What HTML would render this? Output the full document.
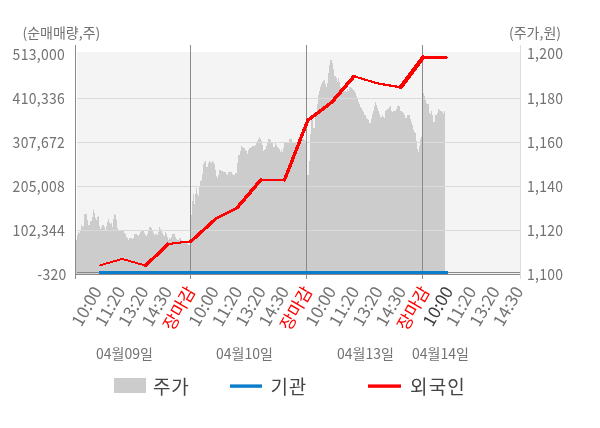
<!DOCTYPE html>
<html><head><meta charset="utf-8"><style>
html,body{margin:0;padding:0;background:#fff;}
svg{display:block;will-change:transform;font-family:'Noto Sans CJK KR','Liberation Sans',sans-serif;}
</style></head><body>
<svg width="600" height="428" viewBox="0 0 600 428">
<rect x="0" y="0" width="600" height="428" fill="#fff"/>
<rect x="77" y="52" width="443" height="222" fill="#f4f4f4"/>
<polygon points="76,274 76,240 77,240 77,235 78,235 78,232 79,232 79,233 80,233 80,231 81,231 81,225 82,225 82,227 83,227 83,226 84,226 84,214 85,214 85,214 86,214 86,214 87,214 87,220 88,220 88,225 89,225 89,225 90,225 90,221 91,221 91,221 92,221 92,217 93,217 93,210 94,210 94,213 95,213 95,218 96,218 96,220 97,220 97,217 98,217 98,216 99,216 99,226 100,226 100,229 101,229 101,227 102,227 102,225 103,225 103,225 104,225 104,227 105,227 105,230 106,230 106,226 107,226 107,222 108,222 108,219 109,219 109,222 110,222 110,224 111,224 111,223 112,223 112,227 113,227 113,219 114,219 114,214 115,214 115,215 116,215 116,220 117,220 117,228 118,228 118,231 119,231 119,231 120,231 120,231 121,231 121,231 122,231 122,231 123,231 123,231 124,231 124,233 125,233 125,234 126,234 126,237 127,237 127,238 128,238 128,240 129,240 129,238 130,238 130,238 131,238 131,238 132,238 132,239 133,239 133,238 134,238 134,234 135,234 135,234 136,234 136,234 137,234 137,235 138,235 138,236 139,236 139,234 140,234 140,232 141,232 141,231 142,231 142,231 143,231 143,231 144,231 144,233 145,233 145,235 146,235 146,236 147,236 147,234 148,234 148,231 149,231 149,227 150,227 150,227 151,227 151,228 152,228 152,231 153,231 153,233 154,233 154,235 155,235 155,234 156,234 156,234 157,234 157,235 158,235 158,232 159,232 159,227 160,227 160,229 161,229 161,231 162,231 162,233 163,233 163,235 164,235 164,236 165,236 165,232 166,232 166,234 167,234 167,237 168,237 168,240 169,240 169,238 170,238 170,239 171,239 171,237 172,237 172,234 173,234 173,234 174,234 174,234 175,234 175,237 176,237 176,239 177,239 177,240 178,240 178,240 179,240 179,238 180,238 180,238 181,238 181,240 182,240 182,241 183,241 183,242 184,242 184,242 185,242 185,243 186,243 186,243 187,243 187,244 188,244 188,245 189,245 189,245 190,245 190,246 191,246 191,215 192,215 192,201 193,201 193,194 194,194 194,204 195,204 195,194 196,194 196,188 197,188 197,194 198,194 198,196 199,196 199,187 200,187 200,181 201,181 201,180 202,180 202,174 203,174 203,164 204,164 204,162 205,162 205,161 206,161 206,167 207,167 207,167 208,167 208,163 209,163 209,161 210,161 210,162 211,162 211,163 212,163 212,161 213,161 213,162 214,162 214,164 215,164 215,170 216,170 216,176 217,176 217,178 218,178 218,175 219,175 219,170 220,170 220,170 221,170 221,171 222,171 222,171 223,171 223,172 224,172 224,172 225,172 225,172 226,172 226,174 227,174 227,175 228,175 228,172 229,172 229,172 230,172 230,172 231,172 231,172 232,172 232,174 233,174 233,175 234,175 234,175 235,175 235,173 236,173 236,173 237,173 237,163 238,163 238,155 239,155 239,155 240,155 240,151 241,151 241,146 242,146 242,147 243,147 243,148 244,148 244,148 245,148 245,150 246,150 246,151 247,151 247,154 248,154 248,150 249,150 249,148 250,148 250,148 251,148 251,147 252,147 252,146 253,146 253,146 254,146 254,146 255,146 255,145 256,145 256,143 257,143 257,141 258,141 258,139 259,139 259,137 260,137 260,139 261,139 261,141 262,141 262,145 263,145 263,151 264,151 264,150 265,150 265,149 266,149 266,146 267,146 267,143 268,143 268,139 269,139 269,139 270,139 270,140 271,140 271,142 272,142 272,143 273,143 273,147 274,147 274,147 275,147 275,143 276,143 276,145 277,145 277,147 278,147 278,148 279,148 279,149 280,149 280,152 281,152 281,150 282,150 282,152 283,152 283,148 284,148 284,143 285,143 285,143 286,143 286,143 287,143 287,143 288,143 288,143 289,143 289,139 290,139 290,139 291,139 291,139 292,139 292,142 293,142 293,143 294,143 294,143 295,143 295,143 296,143 296,144 297,144 297,144 298,144 298,143 299,143 299,142 300,142 300,142 301,142 301,141 302,141 302,139 303,139 303,139 304,139 304,140 305,140 305,141 306,141 306,142 307,142 307,175 308,175 308,175 309,175 309,161 310,161 310,134 311,134 311,120 312,120 312,120 313,120 313,128 314,128 314,128 315,128 315,114 316,114 316,114 317,114 317,104 318,104 318,95 319,95 319,91 320,91 320,87 321,87 321,84 322,84 322,82 323,82 323,81 324,81 324,80 325,80 325,84 326,84 326,87 327,87 327,83 328,83 328,73 329,73 329,65 330,65 330,60 331,60 331,60 332,60 332,63 333,63 333,69 334,69 334,76 335,76 335,76 336,76 336,78 337,78 337,82 338,82 338,78 339,78 339,82 340,82 340,87 341,87 341,88 342,88 342,89 343,89 343,90 344,90 344,91 345,91 345,91 346,91 346,92 347,92 347,89 348,89 348,91 349,91 349,87 350,87 350,87 351,87 351,88 352,88 352,89 353,89 353,90 354,90 354,91 355,91 355,93 356,93 356,96 357,96 357,99 358,99 358,102 359,102 359,104 360,104 360,107 361,107 361,108 362,108 362,110 363,110 363,112 364,112 364,115 365,115 365,115 366,115 366,118 367,118 367,119 368,119 368,120 369,120 369,123 370,123 370,123 371,123 371,119 372,119 372,114 373,114 373,111 374,111 374,106 375,106 375,102 376,102 376,105 377,105 377,108 378,108 378,111 379,111 379,114 380,114 380,117 381,117 381,117 382,117 382,115 383,115 383,117 384,117 384,118 385,118 385,111 386,111 386,110 387,110 387,109 388,109 388,109 389,109 389,107 390,107 390,106 391,106 391,111 392,111 392,112 393,112 393,111 394,111 394,111 395,111 395,111 396,111 396,109 397,109 397,106 398,106 398,106 399,106 399,106 400,106 400,111 401,111 401,111 402,111 402,112 403,112 403,113 404,113 404,115 405,115 405,118 406,118 406,118 407,118 407,115 408,115 408,115 409,115 409,115 410,115 410,119 411,119 411,122 412,122 412,125 413,125 413,130 414,130 414,132 415,132 415,133 416,133 416,141 417,141 417,149 418,149 418,152 419,152 419,146 420,146 420,139 421,139 421,137 422,137 422,137 423,137 423,93 424,93 424,96 425,96 425,100 426,100 426,103 427,103 427,104 428,104 428,104 429,104 429,113 430,113 430,114 431,114 431,111 432,111 432,115 433,115 433,122 434,122 434,122 435,122 435,115 436,115 436,115 437,115 437,113 438,113 438,109 439,109 439,110 440,110 440,111 441,111 441,111 442,111 442,112 443,112 443,114 444,114 444,111 445,111 445,274" fill="#cccccc" shape-rendering="crispEdges"/>
<rect x="77" y="98" width="443" height="1" fill="#dadada"/>
<rect x="77" y="142" width="443" height="1" fill="#dadada"/>
<rect x="77" y="186" width="443" height="1" fill="#dadada"/>
<rect x="77" y="230" width="443" height="1" fill="#dadada"/>
<rect x="77" y="272" width="443" height="1" fill="#888"/>
<rect x="75" y="274" width="445" height="1" fill="#8a8a8a"/>
<rect x="75" y="45" width="1" height="234" fill="#8a8a8a"/>
<rect x="190" y="45" width="1" height="234" fill="#8a8a8a"/>
<rect x="306" y="45" width="1" height="234" fill="#8a8a8a"/>
<rect x="422" y="45" width="1" height="234" fill="#8a8a8a"/>
<rect x="520" y="45" width="1" height="234" fill="#dcdcdc"/>
<rect x="99" y="271" width="349" height="3" fill="#0a7dcc"/>
<g stroke="#ff0000" stroke-linecap="round" shape-rendering="crispEdges"><line x1="100" y1="265.3" x2="122.3" y2="258.9" stroke-width="1.93"/><line x1="122.3" y1="258.9" x2="145.8" y2="265.6" stroke-width="1.93"/><line x1="145.8" y1="265.6" x2="167.6" y2="244.1" stroke-width="3.5"/><line x1="167.6" y1="244.1" x2="191" y2="241.3" stroke-width="2.1"/><line x1="191" y1="241.3" x2="215.8" y2="218.8" stroke-width="3.3"/><line x1="215.8" y1="218.8" x2="237.2" y2="207.7" stroke-width="2.7"/><line x1="237.2" y1="207.7" x2="260.7" y2="180" stroke-width="3.5"/><line x1="260.7" y1="180" x2="284.5" y2="180" stroke-width="2"/><line x1="284.5" y1="180" x2="307.8" y2="120.3" stroke-width="3.35"/><line x1="307.8" y1="120.3" x2="332" y2="102" stroke-width="3.4"/><line x1="332" y1="102" x2="354" y2="76.3" stroke-width="3.6"/><line x1="354" y1="76.3" x2="377.3" y2="83.3" stroke-width="2.1"/><line x1="377.3" y1="83.3" x2="400.6" y2="87.3" stroke-width="2.3"/><line x1="400.6" y1="87.3" x2="423" y2="57.6" stroke-width="4.2"/><line x1="423" y1="57.6" x2="446.4" y2="57.6" stroke-width="2.8"/></g>
<g font-size="14" fill="#727272">
<text x="22.5" y="38.3">(순매매량,주)</text>
<text x="509" y="38.3">(주가,원)</text>
<text x="65.2" y="59.7" text-anchor="end" letter-spacing="0.3" transform="translate(0,59.7) scale(1,1.1) translate(0,-59.7)">513,000</text>
<text x="65.2" y="103.7" text-anchor="end" letter-spacing="0.3" transform="translate(0,103.7) scale(1,1.1) translate(0,-103.7)">410,336</text>
<text x="65.2" y="147.7" text-anchor="end" letter-spacing="0.3" transform="translate(0,147.7) scale(1,1.1) translate(0,-147.7)">307,672</text>
<text x="65.2" y="191.7" text-anchor="end" letter-spacing="0.3" transform="translate(0,191.7) scale(1,1.1) translate(0,-191.7)">205,008</text>
<text x="65.2" y="235.7" text-anchor="end" letter-spacing="0.3" transform="translate(0,235.7) scale(1,1.1) translate(0,-235.7)">102,344</text>
<text x="66.6" y="279.7" text-anchor="end" letter-spacing="0.3" transform="translate(0,279.7) scale(1,1.1) translate(0,-279.7)">-320</text>
<text x="527" y="58.7" letter-spacing="0.3" transform="translate(0,58.7) scale(1,1.1) translate(0,-58.7)">1,200</text>
<text x="527" y="103.7" letter-spacing="0.3" transform="translate(0,103.7) scale(1,1.1) translate(0,-103.7)">1,180</text>
<text x="527" y="147.7" letter-spacing="0.3" transform="translate(0,147.7) scale(1,1.1) translate(0,-147.7)">1,160</text>
<text x="527" y="191.7" letter-spacing="0.3" transform="translate(0,191.7) scale(1,1.1) translate(0,-191.7)">1,140</text>
<text x="527" y="235.7" letter-spacing="0.3" transform="translate(0,235.7) scale(1,1.1) translate(0,-235.7)">1,120</text>
<text x="527" y="279.7" letter-spacing="0.3" transform="translate(0,279.7) scale(1,1.1) translate(0,-279.7)">1,100</text>
<text transform="translate(102.50,291.0) rotate(-60)" text-anchor="end" font-size="17" fill="#727272">10:00</text>
<text transform="translate(125.91,291.0) rotate(-60)" text-anchor="end" font-size="17" fill="#727272">11:20</text>
<text transform="translate(149.32,291.0) rotate(-60)" text-anchor="end" font-size="17" fill="#727272">13:20</text>
<text transform="translate(172.73,291.0) rotate(-60)" text-anchor="end" font-size="17" fill="#727272">14:30</text>
<text transform="translate(196.14,291.0) rotate(-60)" text-anchor="end" font-size="17" fill="#ff0000">장마감</text>
<text transform="translate(219.55,291.0) rotate(-60)" text-anchor="end" font-size="17" fill="#727272">10:00</text>
<text transform="translate(242.96,291.0) rotate(-60)" text-anchor="end" font-size="17" fill="#727272">11:20</text>
<text transform="translate(266.37,291.0) rotate(-60)" text-anchor="end" font-size="17" fill="#727272">13:20</text>
<text transform="translate(289.78,291.0) rotate(-60)" text-anchor="end" font-size="17" fill="#727272">14:30</text>
<text transform="translate(313.19,291.0) rotate(-60)" text-anchor="end" font-size="17" fill="#ff0000">장마감</text>
<text transform="translate(336.60,291.0) rotate(-60)" text-anchor="end" font-size="17" fill="#727272">10:00</text>
<text transform="translate(360.01,291.0) rotate(-60)" text-anchor="end" font-size="17" fill="#727272">11:20</text>
<text transform="translate(383.42,291.0) rotate(-60)" text-anchor="end" font-size="17" fill="#727272">13:20</text>
<text transform="translate(406.83,291.0) rotate(-60)" text-anchor="end" font-size="17" fill="#727272">14:30</text>
<text transform="translate(430.24,291.0) rotate(-60)" text-anchor="end" font-size="17" fill="#ff0000">장마감</text>
<text transform="translate(453.65,291.0) rotate(-60)" text-anchor="end" font-size="17" fill="#3c3c3c">10:00</text>
<text transform="translate(477.06,291.0) rotate(-60)" text-anchor="end" font-size="17" fill="#727272">11:20</text>
<text transform="translate(500.47,291.0) rotate(-60)" text-anchor="end" font-size="17" fill="#727272">13:20</text>
<text transform="translate(523.88,291.0) rotate(-60)" text-anchor="end" font-size="17" fill="#727272">14:30</text>
<text x="96" y="359">04월09일</text>
<text x="216" y="359">04월10일</text>
<text x="337" y="359">04월13일</text>
<text x="412" y="359">04월14일</text>
</g>
<rect x="114" y="378" width="32" height="15" fill="#cccccc"/>
<rect x="230" y="384.4" width="32" height="3.4" fill="#0a7dcc"/>
<rect x="368" y="384.4" width="33" height="3.4" fill="#ff0000"/>
<g font-size="19" fill="#444" letter-spacing="0.8">
<text x="153" y="394">주가</text>
<text x="270.5" y="394">기관</text>
<text x="410" y="394" letter-spacing="1.2">외국인</text>
</g>
</svg>
</body></html>
